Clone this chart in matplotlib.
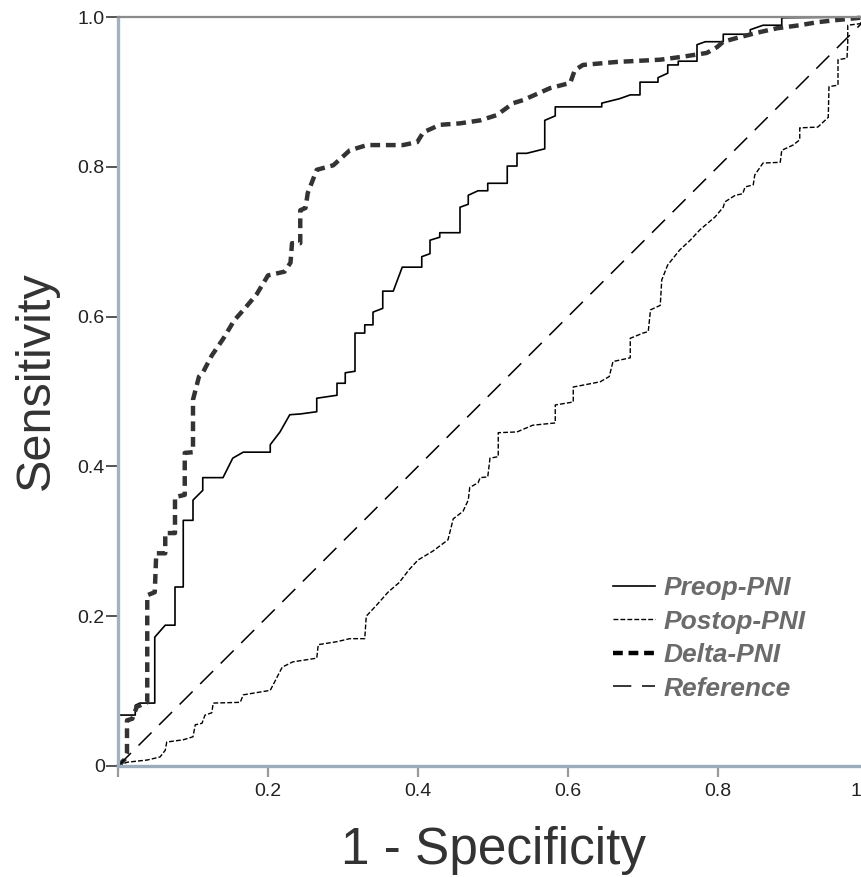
"""ROC curves for Preop / Postop / Delta PNI."""

import matplotlib
matplotlib.use('Agg')
import matplotlib.pyplot as plt
from matplotlib.transforms import ScaledTranslation

# Preop-PNI (solid)
preop_x = [0, 0, 0.023, 0.023, 0.029, 0.049, 0.049, 0.063, 0.076, 0.076,
           0.087, 0.087, 0.100, 0.100, 0.113, 0.113, 0.140, 0.153, 0.167, 0.203,
           0.203, 0.216, 0.229, 0.243, 0.265, 0.265, 0.292, 0.292, 0.303, 0.303,
           0.316, 0.316, 0.329, 0.329, 0.340, 0.340, 0.353, 0.353, 0.367, 0.379,
           0.405, 0.405, 0.416, 0.416, 0.429, 0.429, 0.456, 0.456, 0.467, 0.467,
           0.480, 0.493, 0.493, 0.519, 0.519, 0.532, 0.532, 0.545, 0.569, 0.569,
           0.583, 0.583, 0.645, 0.645, 0.669, 0.683, 0.696, 0.696, 0.720, 0.720,
           0.733, 0.733, 0.747, 0.747, 0.772, 0.772, 0.783, 0.807, 0.807, 0.843,
           0.843, 0.860, 0.885, 0.885, 1.0]
preop_y = [0, 0.068, 0.068, 0.081, 0.084, 0.084, 0.172, 0.188, 0.188, 0.239,
           0.239, 0.328, 0.328, 0.355, 0.368, 0.385, 0.385, 0.411, 0.419, 0.419,
           0.429, 0.446, 0.469, 0.470, 0.473, 0.491, 0.495, 0.511, 0.511, 0.525,
           0.527, 0.578, 0.578, 0.589, 0.589, 0.606, 0.611, 0.634, 0.634, 0.666,
           0.666, 0.680, 0.684, 0.702, 0.706, 0.712, 0.712, 0.746, 0.750, 0.762,
           0.768, 0.768, 0.778, 0.778, 0.801, 0.801, 0.818, 0.818, 0.824, 0.862,
           0.868, 0.880, 0.880, 0.885, 0.891, 0.896, 0.896, 0.913, 0.913, 0.919,
           0.925, 0.936, 0.936, 0.941, 0.941, 0.963, 0.967, 0.967, 0.977, 0.977,
           0.983, 0.989, 0.989, 0.999, 1.0]

# Postop-PNI (fine dashes)
postop_x = [0, 0.012, 0.039, 0.056, 0.063, 0.065, 0.087, 0.100, 0.103, 0.112,
            0.116, 0.125, 0.127, 0.163, 0.167, 0.203, 0.219, 0.233, 0.265, 0.267,
            0.292, 0.309, 0.329, 0.331, 0.345, 0.360, 0.375, 0.388, 0.400, 0.420,
            0.440, 0.447, 0.460, 0.467, 0.469, 0.480, 0.483, 0.493, 0.496, 0.507,
            0.507, 0.532, 0.553, 0.583, 0.583, 0.607, 0.607, 0.633, 0.643, 0.655,
            0.660, 0.683, 0.683, 0.700, 0.707, 0.710, 0.723, 0.725, 0.733, 0.749,
            0.763, 0.776, 0.796, 0.807, 0.809, 0.823, 0.833, 0.836, 0.847, 0.849,
            0.860, 0.883, 0.885, 0.900, 0.909, 0.909, 0.933, 0.947, 0.948, 0.960,
            0.960, 0.972, 0.973, 0.973, 0.989, 1.0]
postop_y = [0, 0.005, 0.008, 0.012, 0.021, 0.032, 0.035, 0.039, 0.055, 0.057,
            0.068, 0.071, 0.084, 0.085, 0.095, 0.101, 0.132, 0.139, 0.144, 0.162,
            0.166, 0.170, 0.170, 0.200, 0.215, 0.232, 0.245, 0.262, 0.275, 0.287,
            0.302, 0.330, 0.340, 0.355, 0.372, 0.378, 0.385, 0.386, 0.411, 0.413,
            0.445, 0.446, 0.455, 0.458, 0.482, 0.486, 0.506, 0.511, 0.513, 0.520,
            0.540, 0.545, 0.571, 0.578, 0.580, 0.609, 0.615, 0.649, 0.669, 0.689,
            0.702, 0.716, 0.733, 0.746, 0.753, 0.762, 0.764, 0.773, 0.776, 0.789,
            0.805, 0.806, 0.822, 0.829, 0.836, 0.852, 0.853, 0.866, 0.907, 0.909,
            0.943, 0.945, 0.965, 0.989, 0.991, 1.0]

# Delta-PNI (bold dashes)
delta_x = [0, 0.009, 0.012, 0.012, 0.019, 0.025, 0.039, 0.039, 0.049, 0.051,
           0.063, 0.063, 0.076, 0.076, 0.089, 0.089, 0.100, 0.100, 0.108, 0.113,
           0.125, 0.140, 0.155, 0.170, 0.185, 0.200, 0.222, 0.230, 0.232, 0.243,
           0.243, 0.250, 0.253, 0.265, 0.287, 0.309, 0.332, 0.380, 0.399, 0.407,
           0.429, 0.456, 0.483, 0.505, 0.527, 0.540, 0.576, 0.603, 0.609, 0.620,
           0.665, 0.723, 0.753, 0.785, 0.799, 0.807, 0.825, 0.852, 0.879, 0.909,
           0.932, 0.959, 1.0]
delta_y = [0, 0.009, 0.017, 0.061, 0.063, 0.079, 0.085, 0.228, 0.232, 0.284,
           0.284, 0.311, 0.311, 0.359, 0.362, 0.418, 0.419, 0.489, 0.520, 0.525,
           0.548, 0.570, 0.595, 0.612, 0.630, 0.655, 0.660, 0.672, 0.698, 0.698,
           0.742, 0.745, 0.765, 0.796, 0.802, 0.822, 0.829, 0.829, 0.833, 0.846,
           0.856, 0.858, 0.862, 0.869, 0.885, 0.889, 0.905, 0.912, 0.929, 0.936,
           0.940, 0.943, 0.947, 0.952, 0.960, 0.967, 0.972, 0.979, 0.985, 0.989,
           0.993, 0.996, 1.0]

ref_x = [0, 1]
ref_y = [0, 1]

x_ticks = [0, 0.2, 0.4, 0.6, 0.8, 1]
x_labels = ['', '0.2', '0.4', '0.6', '0.8', '1']
y_ticks = [0, 0.2, 0.4, 0.6, 0.8, 1.0]
y_labels = ['0', '0.2', '0.4', '0.6', '0.8', '1.0']


def main():
    """メイン関数."""
    plt.rcParams['font.family'] = ['Liberation Sans', 'DejaVu Sans']

    fig = plt.figure(figsize=(8.61, 8.77), dpi=100)
    # the plot runs a little past the right edge, as in the original
    ax = fig.add_axes([118 / 861, 111 / 877, 750 / 861, 749 / 877])

    ax.plot(preop_x, preop_y, color='black', lw=1.2, label='Preop-PNI',
            clip_on=False)
    ax.plot(postop_x, postop_y, color='black', lw=1.0,
            dashes=(3.5, 1.5), label='Postop-PNI', clip_on=False)
    ax.plot(delta_x, delta_y, color='#333333', lw=3.2,
            dashes=(2.2, 1.3), label='Delta-PNI', clip_on=False)
    ax.plot(ref_x, ref_y, color='black', lw=1.1,
            dashes=(12, 7), label='Reference')

    ax.set_xlim(0, 1)
    ax.set_ylim(0, 1)

    ax.set_xticks(x_ticks)
    ax.set_xticklabels(x_labels)
    ax.set_yticks(y_ticks)
    ax.set_yticklabels(y_labels)
    ax.tick_params(axis='x', direction='out', length=8, width=1.6,
                   color='#9a9a9a', pad=4, labelsize=14, labelcolor='#222222')
    ax.tick_params(axis='y', direction='out', length=8.5, width=1.4,
                   color='#555555', pad=1, labelsize=14, labelcolor='#222222')
    # "1" is pushed left so it stays inside the picture
    last = ax.get_xticklabels()[-1]
    last.set_transform(last.get_transform()
                       + ScaledTranslation(-0.12, 0, fig.dpi_scale_trans))

    ax.spines['left'].set_color('#a0b3c6')
    ax.spines['left'].set_linewidth(2.4)
    ax.spines['bottom'].set_color('#9aadbf')
    ax.spines['bottom'].set_linewidth(2.4)
    ax.spines['top'].set_color('#8a8a8a')
    ax.spines['top'].set_linewidth(1.6)
    ax.spines['right'].set_visible(False)

    fig.text(494 / 861, 1 - 864 / 877, '1 - Specificity', fontsize=37,
             color='#333333', ha='center', va='baseline')
    fig.text(36 / 861, 1 - 381 / 877, 'Sensitivity', fontsize=35,
             color='#333333', ha='center', va='center', rotation=90)

    leg = ax.legend(loc='upper left', bbox_to_anchor=(613 / 861, 1 - 576 / 877),
                    bbox_transform=fig.transFigure, frameon=False,
                    borderpad=0, borderaxespad=0, handlelength=1.6,
                    handletextpad=0.3, labelspacing=0.36,
                    prop={'size': 19, 'weight': 'bold', 'style': 'italic'},
                    labelcolor='#6b6b6b')
    for line in leg.get_lines():
        line.set_color('black')

    fig.savefig('out.png', dpi=100)


if __name__ == "__main__":
    main()
